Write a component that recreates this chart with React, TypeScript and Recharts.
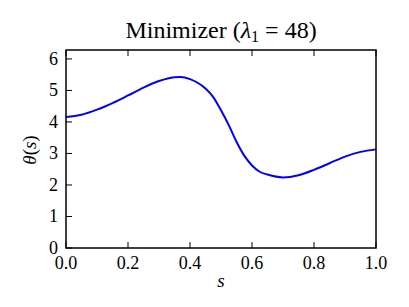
import React from 'react';
import { LineChart, Line, XAxis, YAxis } from 'recharts';

// values
const sValues = [0, 0.05, 0.1, 0.15, 0.2, 0.25, 0.3, 0.35, 0.37, 0.4, 0.45, 0.475, 0.5, 0.525, 0.55, 0.575, 0.6, 0.625, 0.65, 0.7, 0.75, 0.8, 0.85, 0.9, 0.95, 1.0];
const thetaValues = [4.16, 4.23, 4.39, 4.6, 4.84, 5.09, 5.3, 5.42, 5.43, 5.36, 5.06, 4.79, 4.37, 3.9, 3.37, 2.93, 2.62, 2.42, 2.33, 2.24, 2.31, 2.48, 2.69, 2.9, 3.05, 3.13];
const xTicks = [0, 0.2, 0.4, 0.6, 0.8, 1.0];
const yTicks = [0, 1, 2, 3, 4, 5, 6];
const Y_MAX = 2 * Math.PI;

const data = sValues.map((s, i) => ({ s, theta: thetaValues[i] }));

const FONT = '"Liberation Serif", "DejaVu Serif", serif';
const TICK = 6;
const GAP = 8;

// plot box (margins + axis sizes below)
const PLOT = { left: 66, top: 50, width: 310, height: 198 };

// inward tick marks drawn as paths, labels outside
const BottomTick = ({ x, y, payload }: any) => (
  <g>
    <path d={`M${x},${y - GAP}L${x},${y - GAP - TICK}`} stroke="#000" strokeWidth={1} fill="none" />
    <text x={x} y={y} dy="0.71em" textAnchor="middle" fontSize={18} fontFamily={FONT} fill="#000">
      {Number(payload.value).toFixed(1)}
    </text>
  </g>
);

const LeftTick = ({ x, y, payload }: any) => (
  <g>
    <path d={`M${x + GAP},${y}L${x + GAP + TICK},${y}`} stroke="#000" strokeWidth={1} fill="none" />
    <text x={x} y={y} dy="0.33em" textAnchor="end" fontSize={18} fontFamily={FONT} fill="#000">
      {payload.value}
    </text>
  </g>
);

const TopTick = ({ x, y }: any) => (
  <path d={`M${x},${y}L${x},${y + TICK}`} stroke="#000" strokeWidth={1} fill="none" />
);

const RightTick = ({ x, y }: any) => (
  <path d={`M${x},${y}L${x - TICK},${y}`} stroke="#000" strokeWidth={1} fill="none" />
);

export default function App() {
  return (
    <div style={{ position: 'absolute', left: 0, top: 0, width: 409, height: 307, background: '#fff', fontFamily: FONT }}>
      <div style={{ position: 'absolute', left: 66, width: 310, top: 16, lineHeight: '28px', fontSize: 24, textAlign: 'center', color: '#000' }}>
        Minimizer (<i>λ</i><sub style={{ fontSize: 16, verticalAlign: '-4px' }}>1</sub> = 48)
      </div>
      <div style={{ position: 'absolute', left: 30, top: 150, width: 0, height: 0 }}>
        <div style={{ position: 'absolute', left: 0, top: 0, transform: 'translate(-50%, -50%) rotate(-90deg)', fontSize: 19, lineHeight: '20px', whiteSpace: 'nowrap', color: '#000' }}>
          <i>θ</i>(<i>s</i>)
        </div>
      </div>
      <div style={{ position: 'absolute', left: 221, top: 281, transform: 'translate(-50%, -50%)', fontSize: 19, color: '#000' }}>
        <i>s</i>
      </div>
      <LineChart width={409} height={307} data={data} margin={{ top: 49, right: 32, bottom: 19, left: 26 }}>
        <XAxis dataKey="s" type="number" domain={[0, 1]} ticks={xTicks} height={40} axisLine={false}
          tickLine={false} tickSize={0} tickMargin={GAP} tick={BottomTick} interval={0} />
        <XAxis xAxisId="top" orientation="top" dataKey="s" type="number" domain={[0, 1]} ticks={xTicks} height={1}
          axisLine={false} tickLine={false} tickSize={0} tickMargin={0} tick={TopTick} interval={0} />
        <YAxis type="number" domain={[0, Y_MAX]} ticks={yTicks} width={40} axisLine={false}
          tickLine={false} tickSize={0} tickMargin={GAP} tick={LeftTick} interval={0} allowDataOverflow />
        <YAxis yAxisId="right" orientation="right" type="number" domain={[0, Y_MAX]} ticks={yTicks} width={1}
          axisLine={false} tickLine={false} tickSize={0} tickMargin={0} tick={RightTick} interval={0} />
        <Line dataKey="theta" type="monotone" stroke="#0000ff" strokeWidth={2} dot={false} isAnimationActive={false} />
      </LineChart>
      {/* matplotlib-style box around the axes */}
      <svg width={409} height={307} style={{ position: 'absolute', left: 0, top: 0, pointerEvents: 'none' }}>
        <rect x={PLOT.left} y={PLOT.top} width={PLOT.width} height={PLOT.height} fill="none" stroke="#000" strokeWidth={1.5} />
      </svg>
    </div>
  );
}
